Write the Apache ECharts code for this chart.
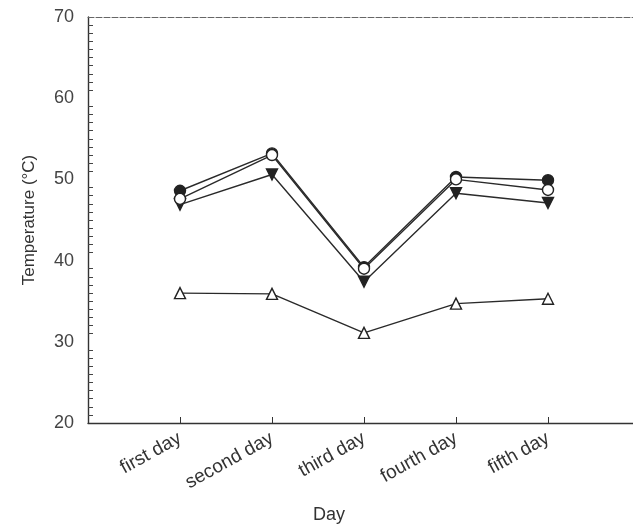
<!DOCTYPE html>
<html>
<head>
<meta charset="utf-8">
<script src="https://cdn.jsdelivr.net/npm/echarts@6/dist/echarts.min.js"></script>
<style>
  html, body { margin: 0; padding: 0; background: #fff; }
  #chart { width: 633px; height: 531px; }
</style>
</head>
<body>
<div id="chart"></div>
<script>
const days = ['first day', 'second day', 'third day', 'fourth day', 'fifth day'];

// deg C
const filledCircle = [48.6, 53.2, 39.2, 50.3, 49.9];
const openCircle = [47.6, 53.0, 39.0, 50.0, 48.7];
const downTriangle = [46.9, 50.6, 37.4, 48.3, 47.1];
const upTriangle = [36.0, 35.9, 31.1, 34.7, 35.3];

const yTicks = [20, 30, 40, 50, 60, 70];

// empty slot on each side so the points sit away from the axes
const axisDays = [''].concat(days, ['']);
const pad = (arr) => [null].concat(arr, [null]);

const chart = echarts.init(document.getElementById('chart'));
const ink = '#2a2a2a';
const font = 'Liberation Sans, Arial, sans-serif';

const line = (name, values, symbol, filled, rotate) => ({
  name: name,
  type: 'line',
  data: pad(values),
  symbol: symbol,
  symbolSize: 11,
  symbolRotate: rotate || 0,
  showSymbol: true,
  lineStyle: { color: ink, width: 1.4 },
  itemStyle: {
    color: filled ? '#222' : '#fff',
    borderColor: '#222',
    borderWidth: 1.4
  },
  z: filled ? 3 : 4
});

chart.setOption({
  animation: false,
  backgroundColor: '#fff',
  grid: { left: 88, width: 552, top: 17, bottom: 108, outerBoundsMode: 'none', containLabel: false },
  xAxis: [
    {
      type: 'category',
      data: axisDays,
      boundaryGap: false,
      axisLine: { lineStyle: { color: '#333', width: 1.4 } },
      axisTick: {
        inside: true,
        length: 6,
        lineStyle: { color: '#333' },
        interval: (i, v) => v !== ''
      },
      axisLabel: {
        rotate: 29,
        margin: 14,
        interval: 0,
        color: '#333',
        fontSize: 19,
        fontFamily: font
      },
      splitLine: { show: false }
    },
    {
      type: 'category',
      data: axisDays,
      position: 'top',
      axisLine: { lineStyle: { color: '#666', width: 1, type: [6, 2] } },
      axisTick: { show: false },
      axisLabel: { show: false }
    }
  ],
  yAxis: {
    type: 'value',
    min: yTicks[0],
    max: yTicks[yTicks.length - 1],
    interval: 10,
    name: 'Temperature (°C)',
    nameLocation: 'middle',
    nameGap: 50,
    nameTextStyle: { color: '#333', fontSize: 17, fontFamily: font },
    axisLine: { show: true, lineStyle: { color: '#333', width: 1.4 } },
    axisTick: { inside: true, length: 9, lineStyle: { color: '#333' } },
    minorTick: { show: true, splitNumber: 10, length: 5, lineStyle: { color: '#444' } },
    axisLabel: { color: '#444', fontSize: 18, fontFamily: font, margin: 14 },
    splitLine: { show: false }
  },
  graphic: [
    {
      type: 'text',
      x: 329,
      y: 515,
      style: {
        text: 'Day',
        fill: '#333',
        font: '18px ' + font,
        align: 'center',
        verticalAlign: 'middle'
      }
    }
  ],
  series: [
    line('filled circle', filledCircle, 'circle', true),
    line('open circle', openCircle, 'circle', false),
    line('down triangle', downTriangle, 'triangle', true, 180),
    line('up triangle', upTriangle, 'triangle', false)
  ]
});
</script>
</body>
</html>
